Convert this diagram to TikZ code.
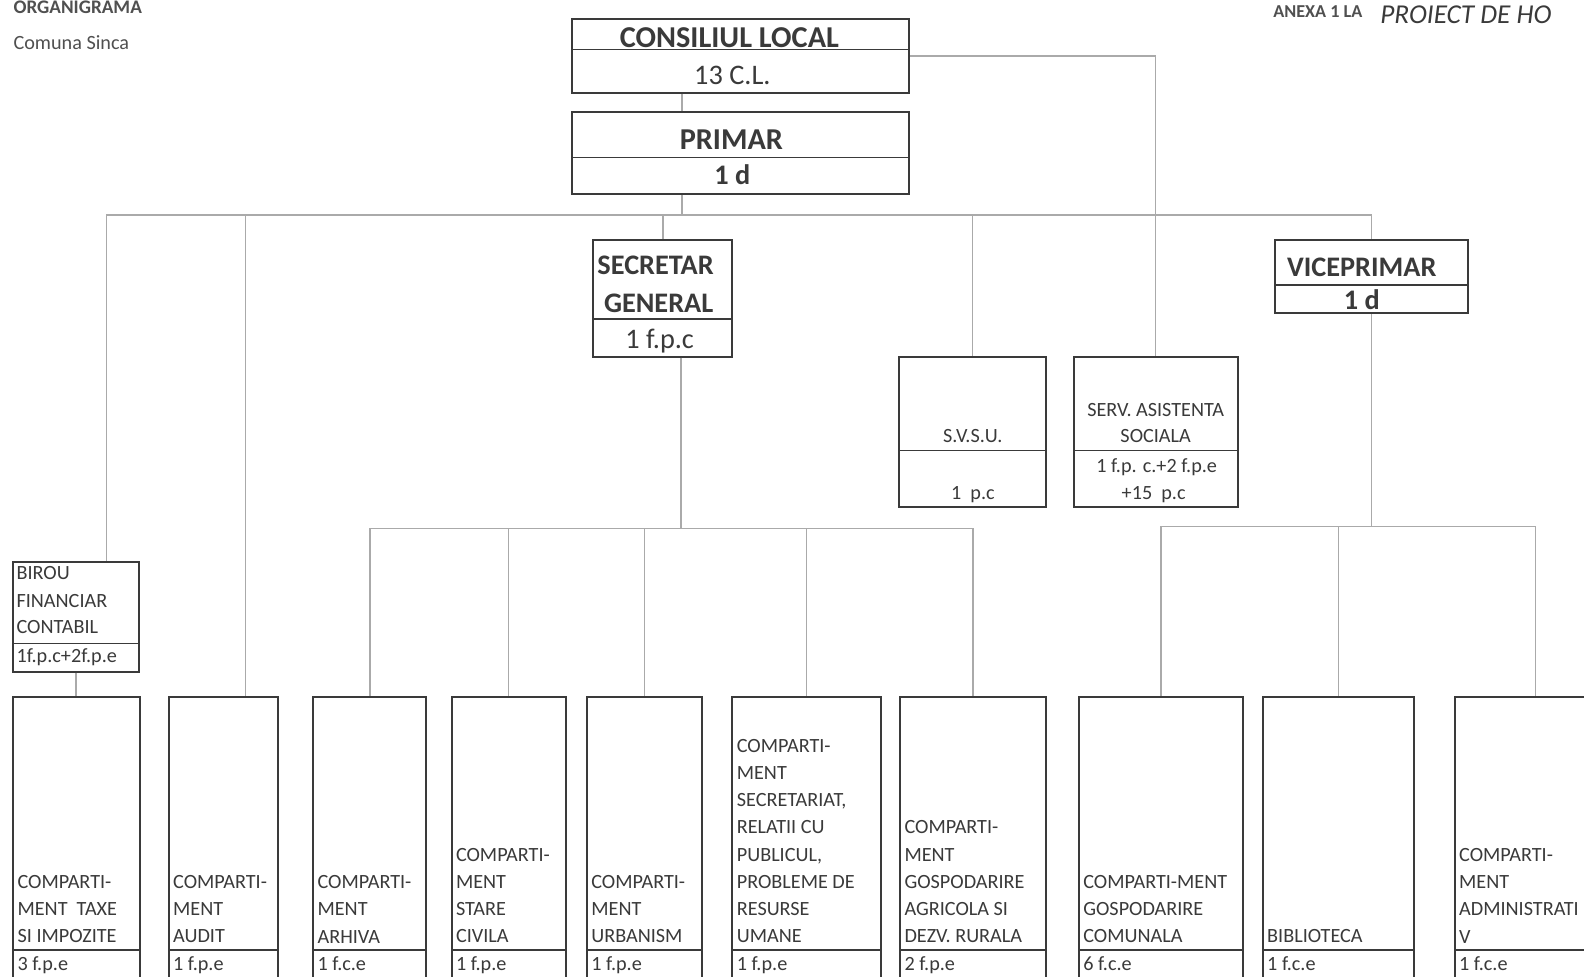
\documentclass[tikz,border=0pt]{standalone}
\usepackage{fontspec}
\setmainfont{Carlito}
\usetikzlibrary{positioning, calc, fit}
\definecolor{inkC}{RGB}{58, 58, 58}
\definecolor{headC}{RGB}{80, 80, 80}
\definecolor{wireC}{RGB}{170, 170, 170}

\tikzset{
  unitbox/.style={draw=inkC, line width=1pt, inner sep=0pt},
  divline/.style={draw=inkC, line width=0.9pt},
  link/.style={draw=wireC, line width=0.8pt},
  bigtitle/.style={font=\fontsize{15}{18}\selectfont\bfseries, text=inkC, anchor=base, inner sep=0pt},
  midtitle/.style={font=\fontsize{14}{17}\selectfont\bfseries, text=inkC, anchor=base, inner sep=0pt},
  midnote/.style={font=\fontsize{14}{17}\selectfont, text=inkC, anchor=base, inner sep=0pt},
  boxtext/.style={font=\fontsize{10}{13.5}\selectfont, text=inkC, anchor=base, inner sep=0pt},
  deptname/.style={font=\fontsize{10}{13.5}\selectfont, text=inkC, align=left, anchor=south west, inner sep=0pt},
  staffnr/.style={font=\fontsize{10}{13.5}\selectfont, text=inkC, anchor=base west, inner sep=0pt},
}

% name, left, right, label, staff
\newcommand{\compbox}[5]{%
  \node[unitbox, fit={(#2,690) (#3,990)}] (#1) {};
  \draw[divline] (#2,940) -- (#3,940);
  \node[deptname] (#1L) at (#2+4,934) {#4};
  \node[staffnr] (#1S) at (#2+4,961) {#5};
}

\begin{document}
\begin{tikzpicture}[x=0.5pt, y=-0.5pt]
        \useasboundingbox (0,0) rectangle (1568,967);
        \clip (0,0) rectangle (1568,967);
        \fill[white] (0,0) rectangle (1568,967);

        % ── Header ───────────────────────────────────────────────────────
        \node[font=\fontsize{9.5}{11}\selectfont\bfseries, text=headC,
              anchor=base west, inner sep=0pt] (orgT) at (13,13.5) {ORGANIGRAMA};
        \node[font=\fontsize{10}{12}\selectfont, text=headC,
              anchor=base west, inner sep=0pt] (comunaT) at (13,49) {Comuna Sinca};
        \node[font=\fontsize{9}{11}\selectfont\bfseries, text=headC,
              anchor=base west, inner sep=0pt] (anexaT) at (1260,17) {ANEXA 1 LA};
        \node[font=\fontsize{13.5}{16}\selectfont\itshape, text=inkC,
              anchor=base west, inner sep=0pt] (proiectT) at (1366,23) {PROIECT DE HO};

        % ── Consiliul local / Primar ─────────────────────────────────────
        \node[unitbox, fit={(566,19) (900,92)}] (consiliu) {};
        \draw[divline] (566,49) -- (900,49);
        \node[bigtitle] (consiliuT) at (722,47) {CONSILIUL LOCAL};
        \node[midnote] (consiliuN) at (725,84) {13 C.L.};

        \node[unitbox, fit={(566,111) (900,192)}] (primar) {};
        \draw[divline] (566,156) -- (900,156);
        \node[bigtitle] (primarT) at (724,148) {PRIMAR};
        \node[midtitle] (primarN) at (725,183) {1 d};

        % ── Secretar / Viceprimar ────────────────────────────────────────
        \node[unitbox, fit={(587,238) (725,353)}] (secretar) {};
        \draw[divline] (587,316) -- (725,316);
        \node[midtitle] (secretarT) at (649,272) {SECRETAR};
        \node[midtitle] (secretarU) at (652,309) {GENERAL};
        \node[midnote] (secretarN) at (653,345) {1 f.p.c};

        \node[unitbox, fit={(1262,238) (1453,310)}] (vice) {};
        \draw[divline] (1262,282) -- (1453,282);
        \node[midtitle] (viceT) at (1348,274) {VICEPRIMAR};
        \node[midtitle] (viceN) at (1348,306) {1 d};

        % ── S.V.S.U. / Asistenta sociala ─────────────────────────────────
        \node[unitbox, fit={(890,353) (1035,502)}] (svsu) {};
        \draw[divline] (890,446) -- (1035,446);
        \node[boxtext] (svsuT) at (963,438) {S.V.S.U.};
        \node[boxtext] (svsuN) at (963,494) {1\ \ p.c};

        \node[unitbox, fit={(1063,353) (1225,502)}] (serv) {};
        \draw[divline] (1063,446) -- (1225,446);
        \node[boxtext] (servT) at (1144,412) {SERV. ASISTENTA};
        \node[boxtext] (servU) at (1144,438) {SOCIALA};
        \node[boxtext] (servN) at (1145,468) {1 f.p. c.+2 f.p.e};
        \node[boxtext] (servM) at (1142,494) {+15\ \ p.c};

        % ── Birou financiar ──────────────────────────────────────────────
        \node[unitbox, fit={(13,556) (138,665)}] (birou) {};
        \draw[divline] (13,637) -- (138,637);
        \node[staffnr] (birouT) at (16,574) {BIROU};
        \node[staffnr] (birouU) at (16,601) {FINANCIAR};
        \node[staffnr] (birouV) at (16,627) {CONTABIL};
        \node[staffnr] (birouN) at (16,656) {1f.p.c+2f.p.e};

        % ── Compartimente ────────────────────────────────────────────────
        \compbox{taxe}{13}{139}{COMPARTI-\\MENT\ \ TAXE\\SI IMPOZITE}{3 f.p.e}
        \compbox{audit}{167}{275}{COMPARTI-\\MENT\\AUDIT}{1 f.p.e}
        \compbox{arhiva}{310}{422}{COMPARTI-\\MENT\\ARHIVA}{1 f.c.e}
        \compbox{stare}{447}{560}{COMPARTI-\\MENT\\STARE\\CIVILA}{1 f.p.e}
        \compbox{urban}{581}{695}{COMPARTI-\\MENT\\URBANISM}{1 f.p.e}
        \compbox{secret}{725}{872}{COMPARTI-\\MENT\\SECRETARIAT,\\RELATII CU\\PUBLICUL,\\PROBLEME DE\\RESURSE\\UMANE}{1 f.p.e}
        \compbox{agric}{891}{1035}{COMPARTI-\\MENT\\GOSPODARIRE\\AGRICOLA SI\\DEZV. RURALA}{2 f.p.e}
        \compbox{comun}{1068}{1230}{COMPARTI-MENT\\GOSPODARIRE\\COMUNALA}{6 f.c.e}
        \compbox{biblio}{1250}{1400}{BIBLIOTECA}{1 f.c.e}
        \compbox{admin}{1440}{1600}{COMPARTI-\\MENT\\ADMINISTRATI\\V}{1 f.c.e}

        % ── Legaturi ─────────────────────────────────────────────────────
        \draw[link] ([xshift=-29pt]consiliu.south) -- ([xshift=-29pt]primar.north);
        \draw[link] (consiliu.east) -| (serv.north);

        \coordinate (busP) at ($([xshift=-29pt]primar.south)+(0,20)$);
        \draw[link] ([xshift=-29pt]primar.south) -- (busP);
        \draw[link] (busP) -| ([xshift=15pt]birou.north);
        \draw[link] (busP) -| ([xshift=11pt]audit.north);
        \foreach \n in {secretar, svsu, vice}
          \draw[link] (busP) -| (\n.north);
        \draw[link] (birou.south) -- (birou.south |- taxe.north);

        \coordinate (busS) at ($([xshift=9pt]secretar.south)+(0,169)$);
        \draw[link] ([xshift=9pt]secretar.south) -- (busS);
        \foreach \n in {arhiva, stare, urban, secret, agric}
          \draw[link] (busS) -| (\n.north);

        \coordinate (busV) at ($(vice.south)+(0,210)$);
        \draw[link] (vice.south) -- (busV);
        \foreach \n in {comun, biblio, admin}
          \draw[link] (busV) -| (\n.north);
      \end{tikzpicture}
\end{document}
